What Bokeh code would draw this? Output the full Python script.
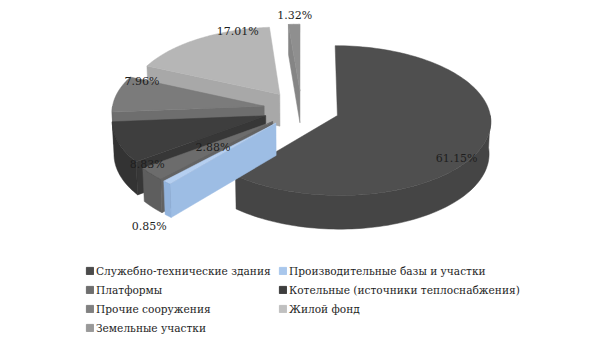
import numpy as np
from bokeh.plotting import figure
from bokeh.models import Legend, LegendItem
from bokeh.embed import file_html
from bokeh.resources import INLINE
from bokeh.core.properties import value

# ---- data ----
categories = [
    "Служебно-технические здания",
    "Производительные базы и участки",
    "Платформы",
    "Котельные (источники теплоснабжения)",
    "Прочие сооружения",
    "Жилой фонд",
    "Земельные участки",
]
shares = [61.15, 0.85, 2.88, 8.83, 7.96, 17.01, 1.32]

# ---- style ----
top_colors = ["#4f4f4f", "#b5cff0", "#6c6c6c", "#3e3e3e", "#7b7b7b", "#b6b6b6", "#8f8f8f"]
face_colors = ["#474747", "#9dbde4", "#636363", "#373737", "#6e6e6e", "#a8a8a8", "#858585"]
side_colors = ["#454545", "#92b3dc", "#5e5e5e", "#333333", "#6a6a6a", "#a0a0a0", "#808080"]
legend_colors = ["#4b4b4b", "#a9c7ec", "#6e6e6e", "#3e3e3e", "#808080", "#c0c0c0", "#999999"]
label_dang = [17.6, -11.9, -1.2, -20.9, 13.6, 18.0, 0.5]   # label angle offset from bisector (deg)
label_rad = [1.004, 1.702, 0.544, 1.054, 0.887, 0.942, 1.08]  # label radius factor
LRX, LRY = 150, 70            # label ellipse (screen px)

W, H = 605, 340
X0, Y0 = 301, 231.3          # screen position of pie centre
R, HGT, EXP = 152, 37, 38     # radius, thickness, explosion
ELEV = np.radians(29)         # elevation of view
CAM = 2000.0                  # camera distance (perspective)

p = figure(width=W, height=H, x_range=(0, W), y_range=(0, H),
           output_backend="svg", toolbar_location=None, min_border=0,
           x_axis_location=None, y_axis_location=None)
p.grid.visible = False
p.outline_line_color = None

def proj(X, Z, h=0.0):
    X = np.asarray(X, dtype=float)
    Z = np.asarray(Z, dtype=float)
    depth = CAM + h * np.sin(ELEV) - Z * np.cos(ELEV)
    s = CAM / depth
    return X0 + X * s, Y0 - (h * np.cos(ELEV) + Z * np.sin(ELEV)) * s

total = sum(shares)
cum = np.concatenate([[0], np.cumsum(shares)]) / total * 360.0
rad = np.radians

slices = []
for i, v in enumerate(shares):
    a0, a1 = cum[i], cum[i + 1]
    mid = (a0 + a1) / 2
    vX = EXP * np.sin(rad(mid))
    vZ = -EXP * np.cos(rad(mid))
    slices.append((i, a0, a1, mid, vX, vZ))

def rim(vX, vZ, a, h=0.0):
    a = np.asarray(a, dtype=float)
    return proj(vX + R * np.sin(rad(a)), vZ - R * np.cos(rad(a)), h)

# draw back to front
for (i, a0, a1, mid, vX, vZ) in sorted(slices, key=lambda s: s[5]):
    vx, vy = proj(vX, vZ)
    bx_, by_ = proj(vX, vZ, HGT)
    for a, vis in ((a0, np.sin(rad(a0)) < -1e-9), (a1, np.sin(rad(a1)) > 1e-9)):
        if vis:
            tx, ty = rim(vX, vZ, a)
            bx, by = rim(vX, vZ, a, HGT)
            p.patch([vx, tx, bx, bx_], [vy, ty, by, by_],
                    fill_color=face_colors[i], line_color=face_colors[i], line_width=0.5)
    s0, s1 = max(a0, 90.0), min(a1, 270.0)
    if s1 > s0:
        ang = np.linspace(s0, s1, 80)
        tx, ty = rim(vX, vZ, ang)
        bx, by = rim(vX, vZ, ang[::-1], HGT)
        p.patch(list(tx) + list(bx), list(ty) + list(by),
                fill_color=side_colors[i], line_color=side_colors[i], line_width=0.5)
    ang = np.linspace(a0, a1, 120)
    tx, ty = rim(vX, vZ, ang)
    p.patch([float(vx)] + list(tx), [float(vy)] + list(ty),
            fill_color=top_colors[i], line_color=top_colors[i], line_width=0.5)

lx, ly, ltxt = [], [], []
for (i, a0, a1, mid, vX, vZ) in slices:
    vx, vy = proj(vX, vZ)
    phi = rad(mid + label_dang[i])
    lx.append(float(vx + label_rad[i] * LRX * np.sin(phi)))
    ly.append(float(vy + label_rad[i] * LRY * np.cos(phi)))
    ltxt.append(f"{shares[i]:.2f}%")

p.text(x=lx, y=ly, text=ltxt, text_font=value("DejaVu Serif"), text_font_size="11px",
       text_align="center", text_baseline="middle", text_color="#1e1e1e")

# legend proxies (not drawn: NaN geometry)
items = []
for i, cat in enumerate(categories):
    rr = p.quad(left=[np.nan], right=[np.nan], bottom=[np.nan], top=[np.nan],
                fill_color=legend_colors[i], line_color=legend_colors[i])
    items.append(LegendItem(label=cat, renderers=[rr]))

legend = Legend(items=items, location=(85, 5), orientation="horizontal", ncols=2,
                label_text_font="DejaVu Serif", label_text_font_size="10.6px",
                label_text_color="#1e1e1e",
                glyph_width=9, glyph_height=9, label_standoff=2, spacing=4,
                label_height=15, label_width=178, padding=0, margin=0,
                border_line_color=None, background_fill_alpha=0)
p.add_layout(legend, "center")

open("out.html", "w").write(file_html(p, INLINE))
